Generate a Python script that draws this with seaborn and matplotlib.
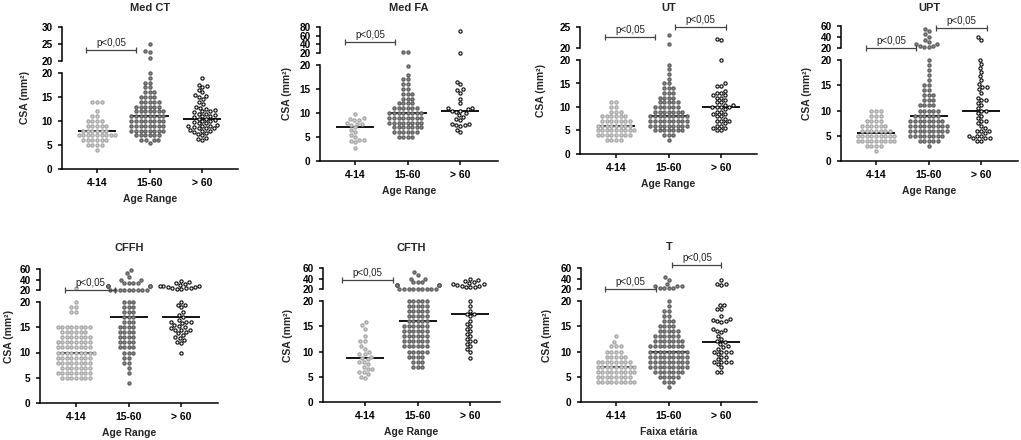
import warnings
import numpy as np
import pandas as pd
import matplotlib
matplotlib.use('Agg')
import matplotlib.pyplot as plt
from matplotlib.colors import to_hex
import seaborn as sns

warnings.filterwarnings('ignore')

groups = ['4-14', '15-60', '> 60']
colors = {'4-14': '#a3a3a3', '15-60': '#5a5a5a', '> 60': '#111111'}
faces = {'#a3a3a3': '#d2d2d2', '#5a5a5a': '#8a8a8a', '#111111': '#ffffff'}


def rows(vals, counts):
    return list(np.repeat(vals, counts))


# CSA values (mm2); repeated values are given as value/count pairs
medct_a_vals = [4, 5, 6, 7, 8, 9, 10, 11, 12, 14]
medct_a_counts = [1, 4, 6, 9, 6, 5, 4, 2, 1, 3]
medct_b_vals = [5.5, 6, 7, 8, 9, 10, 11, 12, 13, 14, 15, 16, 17, 18, 19, 20, 21, 22.5, 23, 25]
medct_b_counts = [1, 4, 6, 8, 8, 8, 8, 7, 6, 5, 4, 3, 2, 2, 1, 1, 1, 1, 1, 1]
medct_c = [19, 17.5, 17.2, 17, 16.5, 16, 15.5, 15.2, 15, 14.5, 14, 13.5, 13, 12.8, 12.5, 12.2,
           12, 12, 11.8, 11.5, 11.5, 11.2, 11, 11, 10.8, 10.5, 10.5, 10.2, 10, 10, 9.8, 9.5, 9.5,
           9.2, 9, 9, 9, 8.8, 8.5, 8.5, 8.5, 8.2, 8, 8, 7.8, 7.5, 7.2, 7, 6.5, 6.2, 6]

medfa_a = [9.8, 9.0, 8.8, 8.6, 8.5, 8.0, 7.8, 7.8, 7.5, 7.0, 6.5, 6.0, 5.5, 5.0, 4.3, 4.3, 4.2,
           4.0, 2.8]
medfa_b_vals = [5, 6, 7, 8, 9, 10, 11, 12, 13, 14, 15, 16, 17, 18, 19.8, 22, 23]
medfa_b_counts = [4, 6, 7, 8, 8, 8, 6, 4, 3, 3, 2, 2, 2, 1, 1, 1, 1]
medfa_c = [70, 21, 16.5, 16, 15, 14.8, 14.2, 13, 12, 11, 11, 10.8, 10.5, 10.5, 10.2, 10, 9.5,
           9.2, 8.8, 8.5, 7.8, 7.8, 7.5, 7.5, 7.2, 6.5, 6]

ut_a_vals = [3, 4, 5, 6, 7, 8, 9, 10, 11]
ut_a_counts = [4, 8, 9, 8, 7, 6, 3, 2, 2]
ut_b_vals = [3, 4, 5, 6, 7, 8, 9, 10, 11, 12, 13, 14, 15, 16, 17, 18, 19, 21, 23]
ut_b_counts = [1, 3, 7, 9, 9, 9, 7, 6, 5, 4, 3, 3, 2, 1, 1, 1, 1, 1, 1]
ut_c = [22, 22.2, 20, 15, 14.5, 14.5, 13.5, 13, 13, 12.5, 12.5, 12, 12, 11.5, 11, 11, 10.5, 10.5,
        10, 10, 10, 10, 9.5, 9, 9, 8.5, 8.5, 8, 8, 7.5, 7, 7, 7, 6.5, 6, 6, 5.5, 5.5, 5, 5]

upt_a_vals = [2, 3, 4, 5, 6, 7, 8, 9, 10]
upt_a_counts = [1, 4, 9, 9, 7, 6, 4, 3, 3]
upt_b_vals = [3, 4, 5, 6, 7, 8, 9, 10, 11, 12, 13, 14, 15, 16, 17, 18, 19, 20,
              21, 24, 27, 31, 35, 40, 45, 50, 55]
upt_b_counts = [1, 5, 8, 9, 9, 8, 6, 5, 4, 3, 3, 2, 2, 1, 1, 1, 1, 1,
                2, 2, 2, 1, 1, 1, 1, 1, 1]
upt_c = [40, 35, 20, 19.2, 18.4, 17.6, 16.8, 16, 15.2, 14.7, 14.7, 14.2, 13.5, 12.5, 12, 12,
         11.5, 11, 10.5, 10, 10, 9.5, 9, 8.5, 8, 8, 7.5, 7, 6.5, 6, 6, 6, 5.5, 5, 5, 5, 4.5,
         4.5, 4.5, 4, 4]

cffh_a_vals = [5, 6, 7, 8, 9, 10, 11, 12, 13, 14, 15, 18, 19, 20, 23]
cffh_a_counts = [7, 8, 7, 8, 8, 9, 8, 8, 7, 6, 8, 2, 2, 1, 1]
cffh_b_vals = [4, 6, 7, 8, 9, 10, 11, 12, 13, 14, 15, 16, 17, 18, 19, 20,
               20.5, 27, 33, 39, 45, 53, 58]
cffh_b_counts = [1, 1, 1, 2, 2, 3, 4, 4, 4, 4, 4, 3, 3, 3, 3, 3,
                 9, 7, 4, 2, 1, 1, 1]
cffh_c = [20, 19.5, 19.5, 19, 18, 17.5, 17, 16.5, 16, 16, 16, 15.8, 15.5, 15.2, 15, 14.8, 14.5,
          14.5, 14.5, 14, 13.8, 13.5, 13, 12.8, 12.5, 12, 11.8, 10,
          22, 22, 23, 24, 24, 25, 26, 27, 28, 28, 30, 32, 34, 36, 38]

cfth_a = [15.8, 15.2, 14.5, 13.0, 12.0, 12.0, 11.0, 10.5, 10, 9.5, 9.5, 9, 8.8, 8.5, 8, 8, 7.5,
          7, 6.5, 6.5, 6, 6, 5.5, 5, 4.8]
cfth_b_vals = [7, 8, 9, 10, 11, 12, 13, 14, 15, 16, 17, 18, 19, 20,
               20.5, 27, 33, 40, 47, 52]
cfth_b_counts = [3, 3, 4, 5, 6, 6, 6, 6, 6, 5, 5, 5, 5, 5,
                 9, 8, 3, 2, 1, 1]
cfth_c = [20, 19, 18, 17.5, 17.5, 17, 16, 15.5, 15, 14.5, 14, 13.5, 13, 12.5, 12, 12, 11.5, 11,
          10.5, 10, 8.7, 23, 23, 24, 26, 26, 27, 29, 30, 31, 33, 35, 37, 40]

t_a_vals = [4, 5, 6, 7, 8, 9, 10, 11, 11.8, 13]
t_a_counts = [9, 8, 9, 9, 8, 5, 4, 3, 1, 1]
t_b_vals = [3, 4, 5, 6, 7, 8, 9, 10, 11, 12, 13, 14, 15, 16, 17, 18, 19, 20,
            21, 25, 29, 38, 43]
t_b_counts = [1, 3, 5, 7, 9, 9, 9, 9, 8, 7, 6, 5, 4, 3, 2, 2, 1, 1,
              4, 3, 1, 1, 1]
t_c = [38, 30, 29, 28, 19.3, 19.3, 18.5, 18.5, 17, 16.5, 16.3, 16, 16, 15.8, 14.5, 14.3, 14,
       13.8, 13, 12.5, 12, 11.8, 11.5, 11, 10.8, 10.5, 10, 10, 10, 10, 9.5, 9, 9, 8.5, 8, 8, 8,
       8, 7.5, 7, 6, 6]

# layout in pixels: x0 (y spine), first category, x1, upper axis top/bottom, lower top/bottom
panels = [
    dict(name='Med CT', data=(rows(medct_a_vals, medct_a_counts), rows(medct_b_vals, medct_b_counts), medct_c),
         x=(62, 97, 238), up=(27, 61), low=(73, 169), ytop=30, uticks=[20, 25, 30], title_y=8,
         ylab_dx=37, xlabel='Age Range', brackets=[(-0.2, 0.74, 23.2)]),
    dict(name='Med FA', data=(medfa_a, rows(medfa_b_vals, medfa_b_counts), medfa_c),
         x=(320, 355, 498), up=(27, 53), low=(65, 161), ytop=80, uticks=[20, 40, 60, 80], title_y=8,
         ylab_dx=33, xlabel='Age Range', brackets=[(-0.19, 0.76, 45)]),
    dict(name='UT', data=(rows(ut_a_vals, ut_a_counts), rows(ut_b_vals, ut_b_counts), ut_c),
         x=(580, 616, 757), up=(27, 48), low=(60, 154), ytop=25, uticks=[20, 25], title_y=8,
         ylab_dx=39, xlabel='Age Range', brackets=[(-0.2, 0.74, 22.6), (1.12, 2.08, 25)]),
    dict(name='UPT', data=(rows(upt_a_vals, upt_a_counts), rows(upt_b_vals, upt_b_counts), upt_c),
         x=(841, 876, 1018), up=(26, 48), low=(60, 161), ytop=60, uticks=[20, 40, 60], title_y=8,
         ylab_dx=34, xlabel='Age Range', brackets=[(-0.19, 0.76, 20), (1.14, 2.1, 56)]),
    dict(name='CFFH', data=(rows(cffh_a_vals, cffh_a_counts), rows(cffh_b_vals, cffh_b_counts), cffh_c),
         x=(40, 76, 218), up=(269, 290), low=(302, 403), ytop=60, uticks=[20, 40, 60], title_y=248,
         ylab_dx=31, xlabel='Age Range', brackets=[(-0.2, 0.74, 20)]),
    dict(name='CFTH', data=(cfth_a, rows(cfth_b_vals, cfth_b_counts), cfth_c),
         x=(323, 365, 500), up=(268, 289), low=(301, 402), ytop=60, uticks=[20, 40, 60], title_y=248,
         ylab_dx=35, xlabel='Age Range', brackets=[(-0.44, 0.53, 37)]),
    dict(name='T', data=(rows(t_a_vals, t_a_counts), rows(t_b_vals, t_b_counts), t_c),
         x=(581, 616, 757), up=(268, 289), low=(301, 402), ytop=60, uticks=[20, 40, 60], title_y=247,
         ylab_dx=34, xlabel='Faixa etária', brackets=[(-0.2, 0.76, 20), (1.07, 2.0, 65.7)]),
]

sns.set_style('ticks')
plt.rcParams['font.family'] = ['Liberation Sans', 'DejaVu Sans']
plt.rcParams['font.weight'] = 'bold'
plt.rcParams['axes.labelweight'] = 'bold'
plt.rcParams['axes.edgecolor'] = 'black'
plt.rcParams['axes.linewidth'] = 1.1
plt.rcParams['xtick.color'] = 'black'
plt.rcParams['ytick.color'] = 'black'
plt.rcParams['xtick.major.width'] = 1.1
plt.rcParams['ytick.major.width'] = 1.1
plt.rcParams['xtick.major.size'] = 3.2
plt.rcParams['ytick.major.size'] = 3.2
plt.rcParams['xtick.labelsize'] = 7.5
plt.rcParams['ytick.labelsize'] = 7.2

W, H = 1021.0, 440.0
U = 52.7  # pixels per category step

fig = plt.figure(figsize=(W / 100, H / 100), dpi=100)


def add_ax(x0, x1, top, bot):
    return fig.add_axes([x0 / W, 1 - bot / H, (x1 - x0) / W, (bot - top) / H])


def swarm(ax, df):
    sns.swarmplot(data=df, x='group', y='csa', hue='group', order=groups, hue_order=groups,
                  palette=colors, size=2.3, linewidth=0.85, ax=ax, legend=False)
    for coll in ax.collections:
        fc = coll.get_facecolors()
        if len(fc) == 0:
            continue
        edge = to_hex(fc[0])
        coll.set_edgecolors(edge)
        coll.set_facecolors(faces.get(edge, 'white'))
        coll.set_clip_on(False)
        coll.set_zorder(2)


for p in panels:
    x0, t0, x1 = p['x']
    df = pd.DataFrame({'group': np.repeat(groups, [len(v) for v in p['data']]),
                       'csa': np.concatenate([np.asarray(v, dtype=float) for v in p['data']])})

    lo = add_ax(x0, x1, *p['low'])
    up = add_ax(x0, x1, *p['up'])
    swarm(lo, df[df.csa <= 20])
    swarm(up, df[df.csa > 20])

    xl = (-(t0 - x0) / U, (x1 - t0) / U)
    for ax in (lo, up):
        ax.set_xlim(xl)
        ax.patch.set_alpha(0)
        ax.set_ylabel('')
        for s in ('top', 'right'):
            ax.spines[s].set_visible(False)
    lo.set_ylim(0, 20)
    up.set_ylim(20, p['ytop'])

    med = df.groupby('group').csa.median().reindex(groups)
    lo.hlines(med.values, np.arange(3) - 0.36, np.arange(3) + 0.36, color='black', lw=1.3, zorder=1)

    lo.set_yticks([0, 5, 10, 15, 20])
    lo.set_xticks([0, 1, 2])
    lo.set_xticklabels(groups)
    lo.set_xlabel(p['xlabel'], fontsize=7.5, labelpad=4)

    up.spines['bottom'].set_visible(False)
    up.set_xticks([])
    up.set_xlabel('')
    up.set_yticks(p['uticks'])

    for xa, xb, yb in p['brackets']:
        up.plot([xa, xb], [yb, yb], color='#444444', lw=0.9, marker='|', markersize=5,
                markeredgewidth=0.9, clip_on=False, zorder=3)
        up.annotate('p<0,05', ((xa + xb) / 2, yb), xytext=(0, 1.5), textcoords='offset points',
                    ha='center', va='bottom', fontsize=7, fontweight='normal', color='#222222',
                    annotation_clip=False)

    fig.text((x0 + x1) / 2 / W, 1 - p['title_y'] / H, p['name'], ha='center', va='center',
             fontsize=8, fontweight='bold')
    fig.text((x0 - p['ylab_dx']) / W, 1 - (p['up'][0] + p['low'][1]) / 2 / H, 'CSA (mm²)',
             rotation=90, ha='center', va='center', fontsize=7.5, fontweight='bold')

fig.savefig('out.png', dpi=100)
